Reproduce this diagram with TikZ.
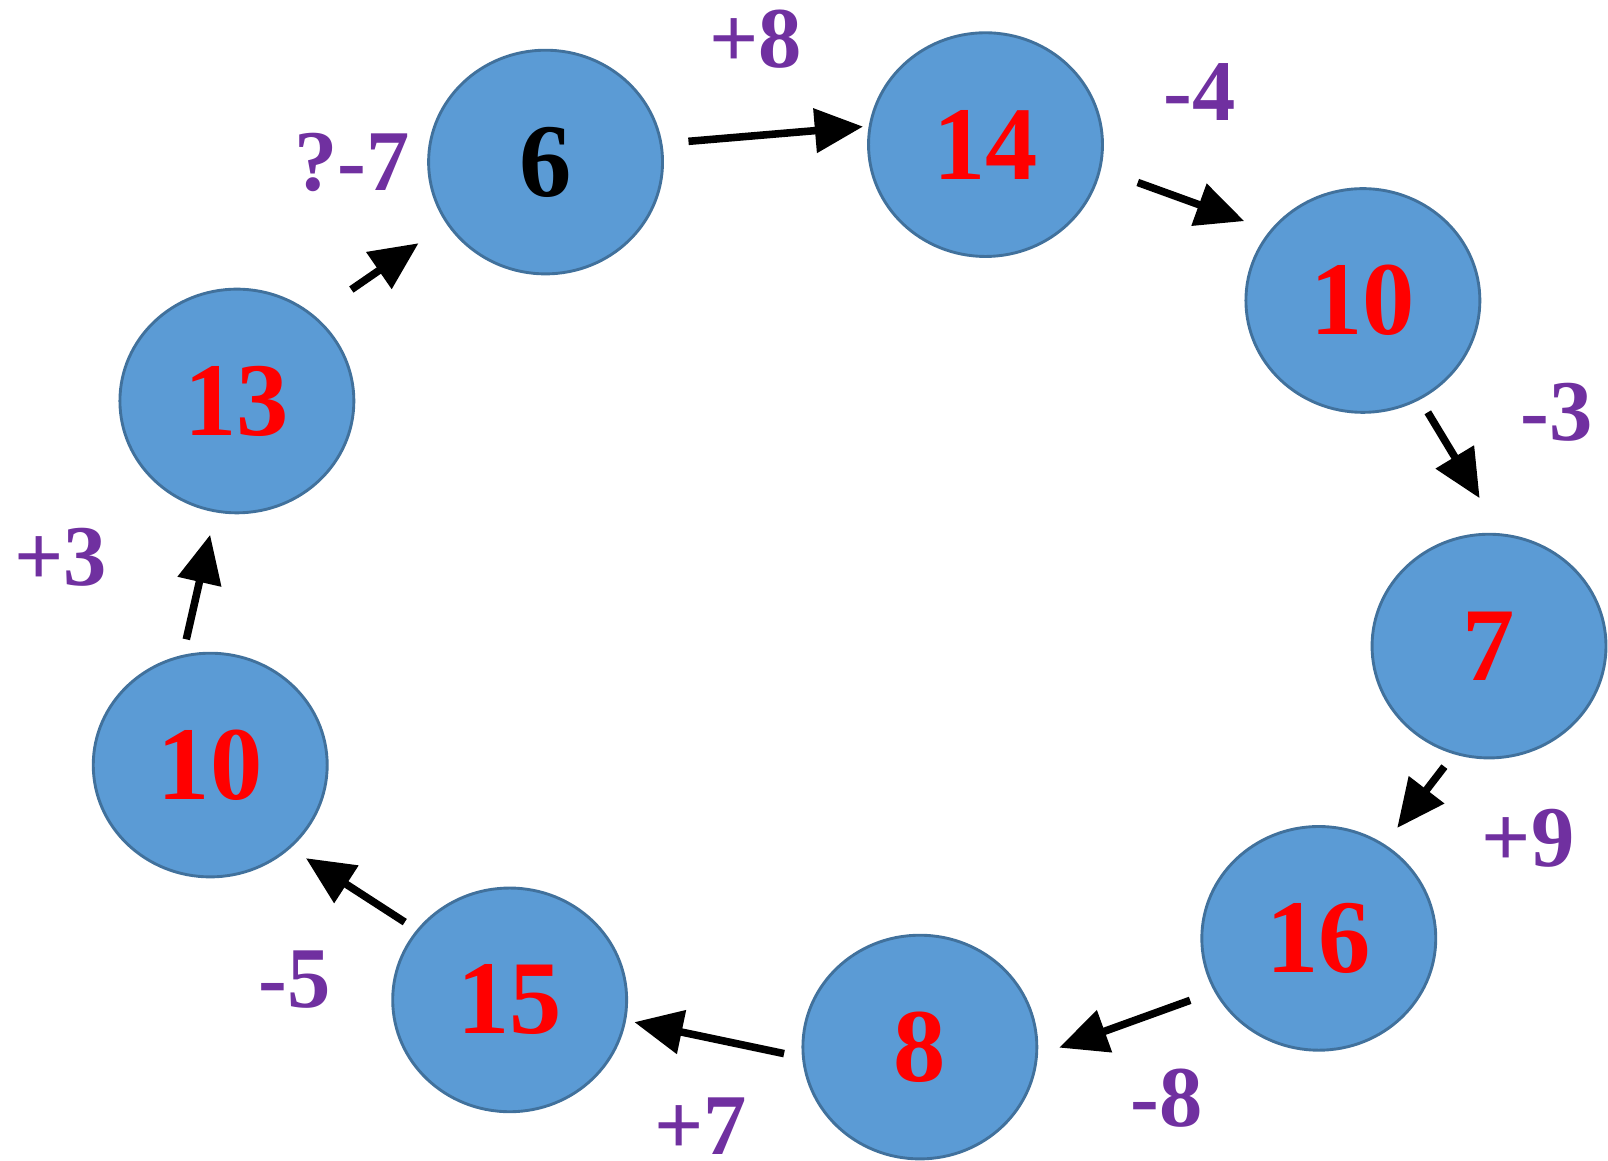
\documentclass[tikz,border=0pt]{standalone}
\usepackage{fontspec}
\setmainfont{Liberation Serif}
\usetikzlibrary{arrows.meta, shapes.geometric}
\definecolor{cfill}{HTML}{5B9BD5}
\definecolor{cedge}{HTML}{41719C}
\definecolor{cred}{HTML}{FF0000}
\definecolor{cpurple}{HTML}{7030A0}
\tikzset{
  every picture/.style={font=\bfseries},
  num/.style={ellipse, draw=cedge, fill=cfill, line width=0.8pt, minimum width=2.28cm, minimum height=2.18cm, inner sep=0pt, text=cred, font=\fontsize{29}{29}\selectfont\bfseries},
  arrow/.style={-{Triangle[length=0.47cm, width=0.42cm]}, line width=2.1pt},
  diff/.style={text=cpurple, inner sep=0pt, font=\fontsize{24}{24}\selectfont\bfseries},
}

\begin{document}
\begin{tikzpicture}[x=0.01cm, y=-0.01cm]
  \useasboundingbox (0,0) rectangle (1568,1132);
  % ring of numbers
  \node[num, text=black] (n6) at (532,158) {6};
  \node[num] (n14) at (961,141) {14};
  \node[num] (n10a) at (1329,293) {10};
  \node[num] (n7) at (1452,630) {7};
  \node[num] (n16) at (1286,915) {16};
  \node[num] (n8) at (897,1021) {8};
  \node[num] (n15) at (497,975) {15};
  \node[num] (n10b) at (205,746) {10};
  \node[num] (n13) at (231,391) {13};
  % steps
  \draw[arrow, shorten <=0.255cm, shorten >=0.055cm] (n6.9) -- (n14.171);
  \draw[arrow, shorten <=0.38cm, shorten >=0.265cm] (n14.-12) -- (n10a.143);
  \draw[arrow, shorten <=0.144cm, shorten >=0.40cm] (n10a.-60) -- (n7.84);
  \draw[arrow, shorten <=0.152cm, shorten >=0.20cm] (n7.-108) -- (n16.55);
  \draw[arrow, shorten <=0.25cm, shorten >=0.22cm] (n16.-153) -- (n8.-4);
  \draw[arrow, shorten <=0.178cm, shorten >=0.082cm] (n8.-175) -- (n15.-10);
  \draw[arrow, shorten <=0.138cm, shorten >=0.178cm] (n15.143) -- (n10b.-46);
  \draw[arrow, shorten <=0.155cm, shorten >=0.224cm] (n10b.104) -- (n13.-101);
  \draw[arrow, shorten <=0.44cm, shorten >=0.33cm] (n13.48) -- (n6.-148);
  % differences
  \node[diff] (d1) at (737,38) {+8};
  \node[diff] (d2) at (1170,90) {-4};
  \node[diff] (d3) at (1518,402) {-3};
  \node[diff] (d4) at (1490,817) {+9};
  \node[diff] (d5) at (1138,1071) {-8};
  \node[diff] (d6) at (683,1098) {+7};
  \node[diff] (d7) at (287,955) {-5};
  \node[diff] (d8) at (59,543) {+3};
  \node[diff] (d9) at (343,158) {?-7};
\end{tikzpicture}
\end{document}
